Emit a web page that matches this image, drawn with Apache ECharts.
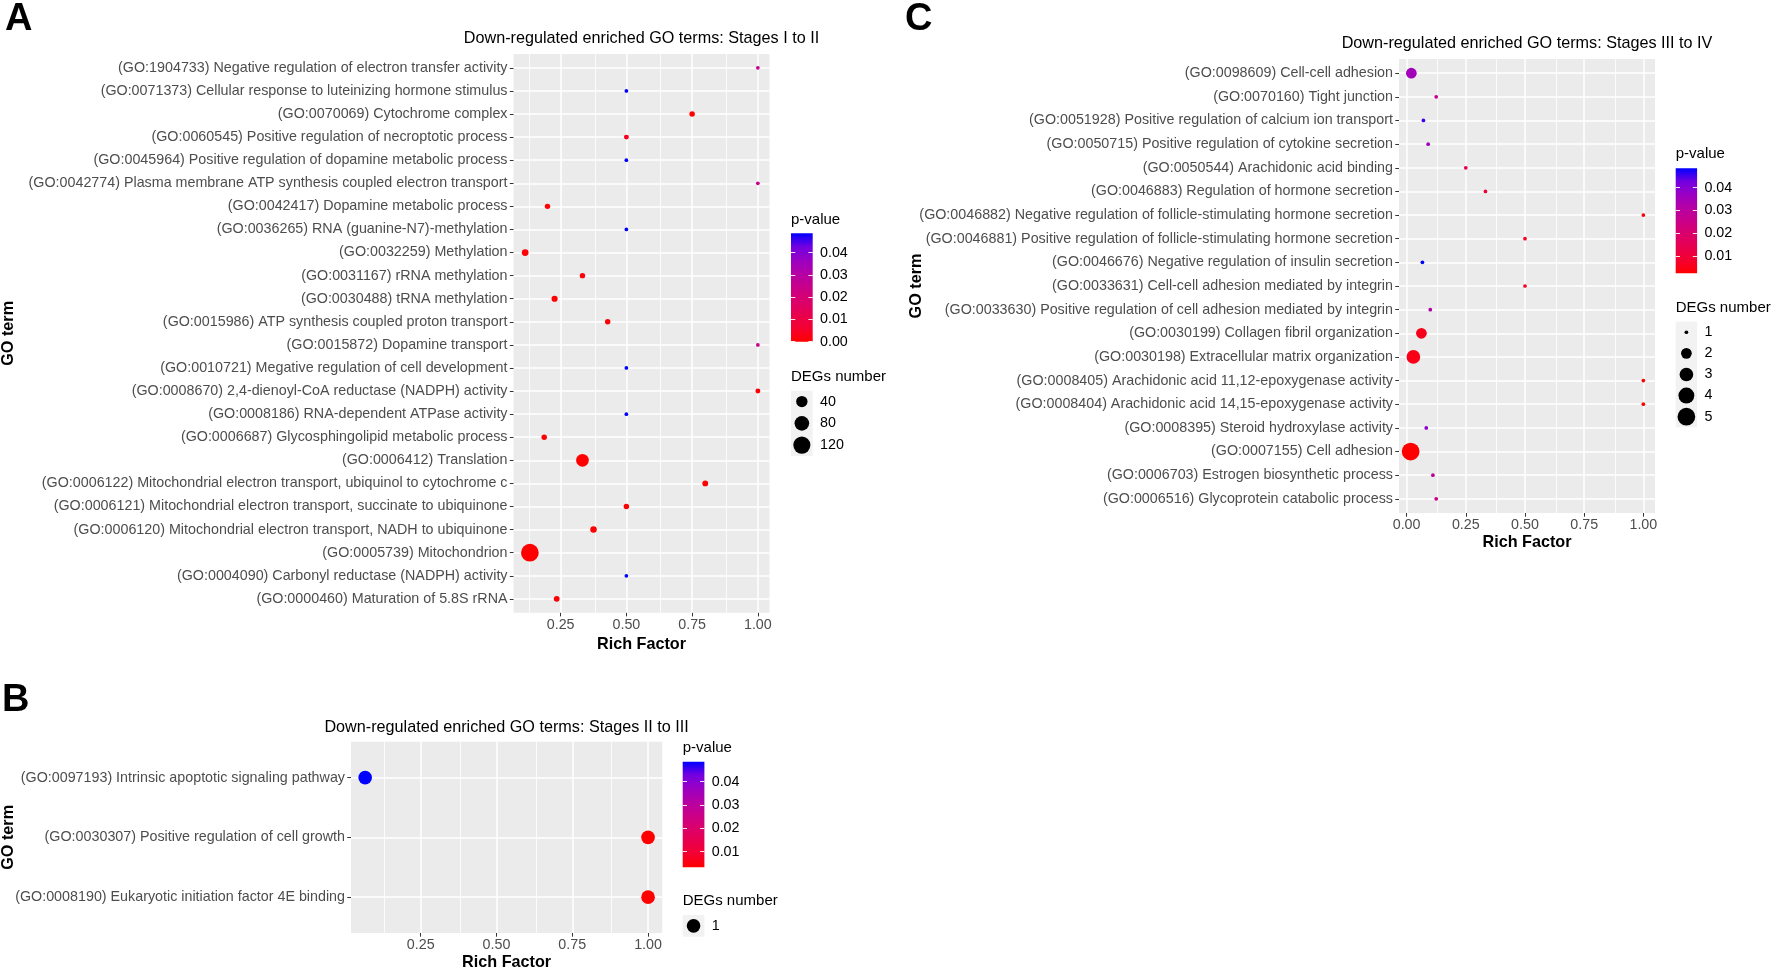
<!DOCTYPE html>
<html><head><meta charset="utf-8">
<script src="https://cdn.jsdelivr.net/npm/echarts@6/dist/echarts.min.js"></script>
<style>html,body{margin:0;padding:0;background:#fff}#chart{width:1772px;height:971px}</style>
</head><body><div id="chart"></div>
<script>
// ---------------- data ----------------
const termsA = [
"(GO:1904733) Negative regulation of electron transfer activity",
"(GO:0071373) Cellular response to luteinizing hormone stimulus",
"(GO:0070069) Cytochrome complex",
"(GO:0060545) Positive regulation of necroptotic process",
"(GO:0045964) Positive regulation of dopamine metabolic process",
"(GO:0042774) Plasma membrane ATP synthesis coupled electron transport",
"(GO:0042417) Dopamine metabolic process",
"(GO:0036265) RNA (guanine-N7)-methylation",
"(GO:0032259) Methylation",
"(GO:0031167) rRNA methylation",
"(GO:0030488) tRNA methylation",
"(GO:0015986) ATP synthesis coupled proton transport",
"(GO:0015872) Dopamine transport",
"(GO:0010721) Megative regulation of cell development",
"(GO:0008670) 2,4-dienoyl-CoA reductase (NADPH) activity",
"(GO:0008186) RNA-dependent ATPase activity",
"(GO:0006687) Glycosphingolipid metabolic process",
"(GO:0006412) Translation",
"(GO:0006122) Mitochondrial electron transport, ubiquinol to cytochrome c",
"(GO:0006121) Mitochondrial electron transport, succinate to ubiquinone",
"(GO:0006120) Mitochondrial electron transport, NADH to ubiquinone",
"(GO:0005739) Mitochondrion",
"(GO:0004090) Carbonyl reductase (NADPH) activity",
"(GO:0000460) Maturation of 5.8S rRNA"
];
const richA = [1.0, 0.5, 0.75, 0.5, 0.5, 1.0, 0.2, 0.5, 0.115, 0.333, 0.227, 0.429, 1.0, 0.5, 1.0, 0.5, 0.1875, 0.333, 0.8, 0.5, 0.375, 0.133, 0.5, 0.235];
const pvalA = [0.0247, 0.0487, 0.0001, 0.0037, 0.0487, 0.0247, 0.0008, 0.0487, 0.0006, 0.0012, 0.0004, 0.0008, 0.0247, 0.0487, 0.0006, 0.0487, 0.0010, 0.00001, 0.00005, 0.0003, 0.0002, 0.0, 0.0487, 0.0009];
const degsA = [1, 1, 3, 2, 1, 1, 3, 1, 7, 3, 5, 3, 1, 1, 2, 1, 3, 54, 4, 3, 6, 131, 1, 4];

const termsB = [
"(GO:0097193) Intrinsic apoptotic signaling pathway",
"(GO:0030307) Positive regulation of cell growth",
"(GO:0008190) Eukaryotic initiation factor 4E binding"
];
const richB = [0.0667, 1.0, 1.0];
const pvalB = [0.0486, 0.0033, 0.0033];
const degsB = [1, 1, 1];

const termsC = [
"(GO:0098609) Cell-cell adhesion",
"(GO:0070160) Tight junction",
"(GO:0051928) Positive regulation of calcium ion transport",
"(GO:0050715) Positive regulation of cytokine secretion",
"(GO:0050544) Arachidonic acid binding",
"(GO:0046883) Regulation of hormone secretion",
"(GO:0046882) Negative regulation of follicle-stimulating hormone secretion",
"(GO:0046881) Positive regulation of follicle-stimulating hormone secretion",
"(GO:0046676) Negative regulation of insulin secretion",
"(GO:0033631) Cell-cell adhesion mediated by integrin",
"(GO:0033630) Positive regulation of cell adhesion mediated by integrin",
"(GO:0030199) Collagen fibril organization",
"(GO:0030198) Extracellular matrix organization",
"(GO:0008405) Arachidonic acid 11,12-epoxygenase activity",
"(GO:0008404) Arachidonic acid 14,15-epoxygenase activity",
"(GO:0008395) Steroid hydroxylase activity",
"(GO:0007155) Cell adhesion",
"(GO:0006703) Estrogen biosynthetic process",
"(GO:0006516) Glycoprotein catabolic process"
];
const richC = [0.020, 0.125, 0.071, 0.091, 0.25, 0.333, 1.0, 0.5, 0.0667, 0.5, 0.1, 0.0625, 0.0286, 1.0, 1.0, 0.083, 0.017, 0.111, 0.125];
const pvalC = [0.035, 0.026, 0.0453, 0.036, 0.0131, 0.0099, 0.0033, 0.0066, 0.0485, 0.0066, 0.032, 0.0055, 0.005, 0.0033, 0.0033, 0.039, 0.0024, 0.029, 0.026];
const degsC = [2, 1, 1, 1, 1, 1, 1, 1, 1, 1, 1, 2, 3, 1, 1, 1, 5, 1, 1];

const xTicksA = [0.25, 0.50, 0.75, 1.00];
const xTicksB = [0.25, 0.50, 0.75, 1.00];
const xTicksC = [0.00, 0.25, 0.50, 0.75, 1.00];
const xMinorTicks = [0.125, 0.375, 0.625, 0.875];
const pTicksA = [0.00, 0.01, 0.02, 0.03, 0.04];
const pTicksB = [0.01, 0.02, 0.03, 0.04];
const pTicksC = [0.01, 0.02, 0.03, 0.04];
const degBreaksA = [40, 80, 120];
const degBreaksB = [1];
const degBreaksC = [1, 2, 3, 4, 5];

// ---------------- styling ----------------
const FONT = '"Liberation Sans", Arial, Helvetica, sans-serif';
const GRAD = ['#FF0000','#F40031','#E8004F','#DA006C','#C90089','#B500A5','#9A00C3','#7300E0','#0000FF'];
function sizeFn(v, lo, hi) {
  const t = hi > lo ? (v - lo) / (hi - lo) : 0.5;
  return 2.8 * (1 + 5 * Math.sqrt(t)) + 0.93;
}

const panels = [
  { letter: 'A', title: 'Down-regulated enriched GO terms: Stages I to II',
    terms: termsA, rich: richA, pval: pvalA, degs: degsA, xTicks: xTicksA, pTicks: pTicksA, breaks: degBreaksA,
    main: {left: 513.5, top: 54, width: 256, height: 558.7},
    cbar: {left: 791, top: 233.3, width: 21.7, height: 108.4},
    key:  {left: 791, top: 390.7, width: 21.7, height: 65.3},
    letterX: 5, letterY: 20, titleY: 38.5, goX: 9, pTitleY: 220, dTitleY: 376.7 },
  { letter: 'B', title: 'Down-regulated enriched GO terms: Stages II to III',
    terms: termsB, rich: richB, pval: pvalB, degs: degsB, xTicks: xTicksB, pTicks: pTicksB, breaks: degBreaksB,
    main: {left: 351, top: 741.7, width: 311.2, height: 191.3},
    cbar: {left: 682.7, top: 761.7, width: 21.7, height: 105.6},
    key:  {left: 682.7, top: 915, width: 21.7, height: 21.7},
    letterX: 2, letterY: 701, titleY: 728, goX: 9, pTitleY: 748, dTitleY: 901 },
  { letter: 'C', title: 'Down-regulated enriched GO terms: Stages III to IV',
    terms: termsC, rich: richC, pval: pvalC, degs: degsC, xTicks: xTicksC, pTicks: pTicksC, breaks: degBreaksC,
    main: {left: 1399, top: 59, width: 256, height: 454},
    cbar: {left: 1675.7, top: 168.3, width: 21.4, height: 105},
    key:  {left: 1675.7, top: 321.7, width: 21.4, height: 105.5},
    letterX: 905, letterY: 19.5, titleY: 44, goX: 917, pTitleY: 154, dTitleY: 308 }
];

const option = { backgroundColor: '#fff', animation: false, grid: [], xAxis: [], yAxis: [], series: [], visualMap: [], graphic: [] };

panels.forEach(P => {
  const g0 = option.grid.length;
  option.grid.push(Object.assign({show: true, backgroundColor: '#EBEBEB', borderWidth: 0, containLabel: false, outerBoundsMode: 'none'}, P.main));
  option.grid.push(Object.assign({show: false, containLabel: false, outerBoundsMode: 'none'}, P.cbar));
  option.grid.push(Object.assign({show: true, backgroundColor: '#F2F2F2', borderWidth: 0, containLabel: false, outerBoundsMode: 'none'}, P.key));

  const lo = Math.min(...P.rich), hi = Math.max(...P.rich);
  const pad = 0.05 * (hi - lo);
  const xmin = lo - pad, xmax = hi + pad;
  const n = P.terms.length;
  const idx = P.terms.map((_, i) => i);
  const pmin = Math.min(...P.pval), pmax = Math.max(...P.pval);
  const pT = P.pTicks.filter(v => v >= pmin - 1e-12 && v <= pmax + 1e-12);
  const dlo = Math.min(...P.degs), dhi = Math.max(...P.degs);
  const xMaj = P.xTicks.filter(v => v >= xmin && v <= xmax);
  const xMin = xMinorTicks.filter(v => v >= xmin && v <= xmax);
  const xi = option.xAxis.length, yi = option.yAxis.length;

  // main x
  option.xAxis.push({type: 'value', gridIndex: g0, min: xmin, max: xmax, position: 'bottom',
    axisLine: {show: false, onZero: false},
    axisTick: {show: true, length: 3.7, customValues: xMaj, lineStyle: {color: '#333', width: 1}},
    axisLabel: {customValues: xMaj, formatter: v => v.toFixed(2), margin: 5, fontSize: 14.3, color: '#4D4D4D', fontFamily: FONT},
    splitLine: {show: false},
    name: 'Rich Factor', nameLocation: 'middle', nameGap: 22,
    nameTextStyle: {fontSize: 16.2, fontWeight: 'bold', color: '#000', fontFamily: FONT}});
  // colorbar x, key x
  option.xAxis.push({type: 'value', gridIndex: g0 + 1, min: 0, max: 1, show: false, axisLine: {onZero: false}});
  option.xAxis.push({type: 'value', gridIndex: g0 + 2, min: -1, max: 1, show: false, axisLine: {onZero: false}});

  // main y
  option.yAxis.push({type: 'value', gridIndex: g0, inverse: true, min: -0.6, max: n - 0.4,
    axisLine: {show: false, onZero: false},
    axisTick: {show: true, length: 3.7, customValues: idx, lineStyle: {color: '#333', width: 1}},
    axisLabel: {customValues: idx, formatter: v => P.terms[Math.round(v)], margin: 6, fontSize: 14.3, color: '#4D4D4D', fontFamily: FONT},
    splitLine: {show: true, lineStyle: {color: '#fff', width: 1.5}}});
  // colorbar y left / right
  option.yAxis.push({type: 'value', gridIndex: g0 + 1, min: pmin, max: pmax, position: 'left', z: 10,
    axisLine: {show: false, onZero: false},
    axisTick: {show: true, inside: true, length: 4.3, customValues: pT, lineStyle: {color: 'rgba(255,255,255,0.9)', width: 1}},
    axisLabel: {show: false}, splitLine: {show: false}});
  option.yAxis.push({type: 'value', gridIndex: g0 + 1, min: pmin, max: pmax, position: 'right', z: 10,
    axisLine: {show: false, onZero: false},
    axisTick: {show: true, inside: true, length: 4.3, customValues: pT, lineStyle: {color: 'rgba(255,255,255,0.9)', width: 1}},
    axisLabel: {show: true, customValues: pT, formatter: v => v.toFixed(2), margin: 7.3, fontSize: 14.3, color: '#000', fontFamily: FONT},
    splitLine: {show: false}});
  // key y
  option.yAxis.push({type: 'category', gridIndex: g0 + 2, data: P.breaks.map(String), inverse: true, position: 'right',
    axisLine: {show: false, onZero: false}, axisTick: {show: false}, splitLine: {show: false},
    axisLabel: {margin: 7.3, fontSize: 14.3, color: '#000', fontFamily: FONT}});

  // vertical grid lines (major + minor) drawn under the points
  const vLine = (v, w) => ({xAxis: v, lineStyle: {color: '#fff', width: w, type: 'solid'}});
  option.series.push({type: 'scatter', xAxisIndex: xi, yAxisIndex: yi, z: 1, silent: true,
    data: [[xMaj[0], 0]], symbolSize: 0, itemStyle: {opacity: 0},
    markLine: {silent: true, z: 1, symbol: ['none', 'none'], label: {show: false}, emphasis: {disabled: true}, animation: false,
      data: xMin.map(v => vLine(v, 0.8)).concat(xMaj.map(v => vLine(v, 1.5)))}});

  const sMain = option.series.length;
  option.series.push({type: 'scatter', xAxisIndex: xi, yAxisIndex: yi, z: 3, silent: true,
    data: P.terms.map((t, i) => [P.rich[i], i, P.pval[i], P.degs[i]]),
    symbolSize: v => sizeFn(v[3], dlo, dhi),
    itemStyle: {opacity: 1}, emphasis: {disabled: true}});
  option.series.push({type: 'custom', xAxisIndex: xi + 1, yAxisIndex: yi + 1, z: 1, silent: true,
    encode: {x: [0, 1], y: [2, 3]},
    data: [[0, 1, pmin, pmax]],
    renderItem: (params, api) => {
      const a = api.coord([api.value(0), api.value(2)]);
      const b = api.coord([api.value(1), api.value(3)]);
      return {type: 'rect', shape: {x: a[0], y: b[1], width: b[0] - a[0], height: a[1] - b[1]},
        style: {fill: {type: 'linear', x: 0, y: 1, x2: 0, y2: 0,
          colorStops: GRAD.map((c, j) => ({offset: j / (GRAD.length - 1), color: c}))}}};
    }});
  option.series.push({type: 'scatter', xAxisIndex: xi + 2, yAxisIndex: yi + 3, silent: true,
    data: P.breaks.map(b => [0, String(b), b]),
    symbolSize: v => sizeFn(v[2], dlo, dhi),
    itemStyle: {color: '#000', opacity: 1}, emphasis: {disabled: true}});
  option.visualMap.push({type: 'continuous', show: false, seriesIndex: sMain, dimension: 2,
    min: pmin, max: pmax, inRange: {color: GRAD}});

  option.graphic.push({type: 'text', x: P.letterX, y: P.letterY, silent: true,
    style: {text: P.letter, fontSize: 38, fontWeight: 'bold', fontFamily: FONT, fill: '#000', align: 'left', verticalAlign: 'middle'}});
  option.graphic.push({type: 'text', x: P.main.left + P.main.width / 2, y: P.titleY, silent: true,
    style: {text: P.title, fontSize: 16.2, fontFamily: FONT, fill: '#000', align: 'center', verticalAlign: 'middle'}});
  option.graphic.push({type: 'text', x: P.goX, y: P.main.top + P.main.height / 2, rotation: Math.PI / 2, silent: true,
    style: {text: 'GO term', fontSize: 16.2, fontWeight: 'bold', fontFamily: FONT, fill: '#000', align: 'center', verticalAlign: 'middle'}});
  option.graphic.push({type: 'text', x: P.cbar.left, y: P.pTitleY, silent: true,
    style: {text: 'p-value', fontSize: 15, fontFamily: FONT, fill: '#000', align: 'left', verticalAlign: 'middle'}});
  option.graphic.push({type: 'text', x: P.key.left, y: P.dTitleY, silent: true,
    style: {text: 'DEGs number', fontSize: 15, fontFamily: FONT, fill: '#000', align: 'left', verticalAlign: 'middle'}});
});

const chart = echarts.init(document.getElementById('chart'), null, {renderer: 'canvas'});
chart.setOption(option);
</script>
</body></html>
